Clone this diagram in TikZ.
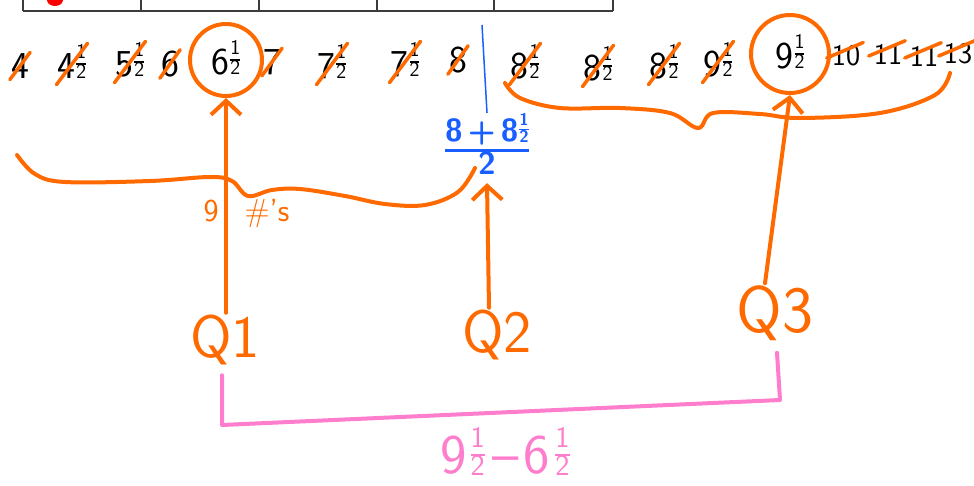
\documentclass[tikz,border=0pt]{standalone}
\usetikzlibrary{arrows.meta}
\definecolor{penorange}{RGB}{255,106,0}
\definecolor{penblue}{RGB}{25,95,255}
\definecolor{penpink}{RGB}{255,125,205}
\definecolor{tablegray}{RGB}{60,60,60}
% stacked one half, #1 = size of its digits in pt
\newcommand{\halfpart}[1]{\begingroup\fontsize{#1}{#1}\selectfont
  \setlength{\arrayrulewidth}{1.4pt}\renewcommand{\arraystretch}{0.75}%
  \setlength{\tabcolsep}{0pt}%
  \raisebox{0.42em}{\begin{tabular}{c}1\\\hline 2\end{tabular}}\endgroup}
\newcommand{\halfval}[1]{#1\kern1pt\halfpart{21}}

\begin{document}
\begin{tikzpicture}[x=1pt,y=-1pt,
  pen/.style={draw=penorange, line width=4pt, line cap=round, line join=round},
  slash/.style={draw=penorange, line width=3.5pt, line cap=round},
  val/.style={font=\fontsize{38}{40}\selectfont\sffamily, inner sep=1pt},
  qname/.style={text=penorange, font=\fontsize{60}{62}\selectfont\sffamily, inner sep=2pt},
  ring/.style={pen, circle, minimum size=72pt, inner sep=0pt},
  upto/.style={pen, -{Straight Barb[length=14pt,width=30pt]}},
]
\useasboundingbox (0,0) rectangle (974,486);
% table edge at the top
\draw[tablegray, line width=1.6pt] (23,11) -- (613,11);
\foreach \tx in {23,141,259,377,494,613}
  \draw[tablegray, line width=1.6pt] (\tx,0) -- (\tx,11);
\fill[red] (55,0) ellipse (8 and 6);
% the values
\node[val] (n1) at (20,66) {4};
\node[val] (n2) at (72,64) {\halfval{4}};
\node[val] (n3) at (130,62) {\halfval{5}};
\node[val] (n4) at (170,64) {6};
\node[val] (n5) at (226,60) {\halfval{6}};
\node[val] (n6) at (272,62) {7};
\node[val] (n7) at (332,64) {\halfval{7}};
\node[val] (n8) at (405,62) {\halfval{7}};
\node[val] (n9) at (458,60) {8};
\node[val] (n10) at (525,64) {\halfval{8}};
\node[val] (n11) at (598,66) {\halfval{8}};
\node[val] (n12) at (664,64) {\halfval{8}};
\node[val] (n13) at (718,62) {\halfval{9}};
\node[val] (n14) at (790,54) {\halfval{9}};
\node[val, font=\fontsize{30}{32}\selectfont\sffamily] (n15) at (846,56) {10};
\node[val, font=\fontsize{30}{32}\selectfont\sffamily] (n16) at (888,54) {11};
\node[val, font=\fontsize{30}{32}\selectfont\sffamily] (n17) at (924,56) {11};
\node[val, font=\fontsize{30}{32}\selectfont\sffamily] (n18) at (958,54) {13};
% crossed out
\foreach \n in {n1,n2,n3,n4,n6,n7,n8,n9,n10,n11,n12,n13}
  \draw[slash] (\n.south west) -- (\n.north east);
\foreach \n in {n15,n16,n17,n18}
  \draw[slash] ([xshift=-4pt,yshift=-2pt]\n.west) -- ([xshift=2pt,yshift=2pt]\n.north east);
\node[ring] (c1) at (n5) {};
\node[ring, minimum size=78pt] (c2) at (n14) {};
% median
\coordinate (split) at (482,25);
\node[text=penblue, font=\fontsize{32}{34}\selectfont\sffamily\bfseries, inner sep=0pt] (mid) at (487,148)
  {\setlength{\arrayrulewidth}{2.5pt}\renewcommand{\arraystretch}{0.8}%
   \begin{tabular}{@{}c@{}}8\,+\,8\kern1pt\halfpart{17}\\\hline 2\end{tabular}};
\draw[penblue, line width=1.5pt] (split) -- (mid.north);
% braces
\draw[pen] plot[smooth, tension=0.6] coordinates {(17,155) (35,174) (65,182) (150,181) (210,177) (232,181) (248,196)
  (272,190) (300,189) (345,196) (385,204) (425,205) (458,192) (475,168)};
\node[text=penorange, font=\fontsize{32}{34}\selectfont\sffamily, anchor=west] (cnt) at (200,214)
  {9\hspace{26pt}\#'s};
\draw[pen] plot[smooth, tension=0.6] coordinates {(505,83) (520,98) (560,108) (620,108) (670,113) (698,128)
  (713,113) (760,114) (800,118) (880,113) (935,95) (950,73)};
% quartiles
\node[qname] (q1) at (225,340) {Q1};
\node[qname] (q2) at (497,335) {Q2};
\node[qname, font=\fontsize{66}{68}\selectfont\sffamily] (q3) at (775,313) {Q3};
\draw[upto] (q1.north -| c1.south) -- (c1.south);
\draw[upto] ([xshift=-8pt]q2.north) -- (mid.south);
\draw[upto] ([xshift=-10pt]q3.north) -- (c2.south);
% range between Q1 and Q3
\coordinate (b1) at (222,425);
\coordinate (b2) at (780,400);
\draw[draw=penpink, line width=4pt, line join=round, line cap=round]
  ([xshift=-3pt,yshift=-8pt]q1.south) -- (b1) -- (b2) -- ([xshift=2pt,yshift=-10pt]q3.south);
\node[text=penpink, font=\fontsize{56}{58}\selectfont\sffamily] (iqr) at (505,455)
  {9\kern4pt\halfpart{30}\hspace{8pt}--\hspace{4pt}6\kern6pt\halfpart{30}};
\end{tikzpicture}
\end{document}
